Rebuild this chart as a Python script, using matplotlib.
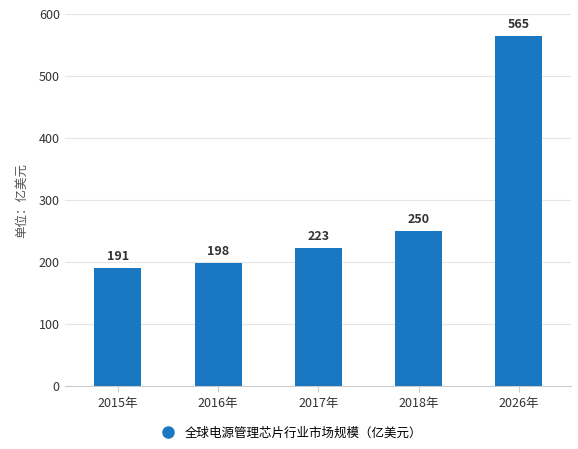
import matplotlib
matplotlib.use("Agg")
import matplotlib.pyplot as plt

plt.rcParams["font.family"] = ["Noto Sans CJK SC", "DejaVu Sans"]

years = ["2015年", "2016年", "2017年", "2018年", "2026年"]
values = [191, 198, 223, 250, 565]
series_name = "全球电源管理芯片行业市场规模（亿美元）"

fig = plt.figure(figsize=(5.78, 4.49), dpi=100)
ax = fig.add_axes([0.112, 0.14, 0.876, 0.829])

x = range(len(years))
ax.bar(x, values, width=0.47, color="#1a78c2", zorder=3)
for xi, v in zip(x, values):
    ax.text(xi, v + 8, str(v), ha="center", va="bottom", fontsize=9,
            fontweight="bold", color="#333333")

ax.set_xlim(-0.53, 4.52)
ax.set_ylim(0, 600)
ax.set_yticks(range(0, 601, 100))
ax.set_xticks(list(x))
ax.set_xticklabels(years)
ax.tick_params(axis="both", labelsize=9, colors="#333333", length=0)
ax.tick_params(axis="x", length=4, color="#cccccc")
ax.grid(axis="y", color="#e6e6e6", linewidth=0.8, zorder=0)
for s in ["top", "right", "left"]:
    ax.spines[s].set_visible(False)
ax.spines["bottom"].set_color("#cccccc")
ax.set_ylabel("单位：亿美元", fontsize=9, color="#555555", labelpad=8)

fig.legend(handles=[plt.Line2D([], [], marker="o", linestyle="", color="#1a78c2",
                               markersize=8, label=series_name)],
           loc="center", bbox_to_anchor=(0.5, 0.035), frameon=False, fontsize=9,
           handletextpad=0.3)

fig.savefig("out.png", dpi=100)
